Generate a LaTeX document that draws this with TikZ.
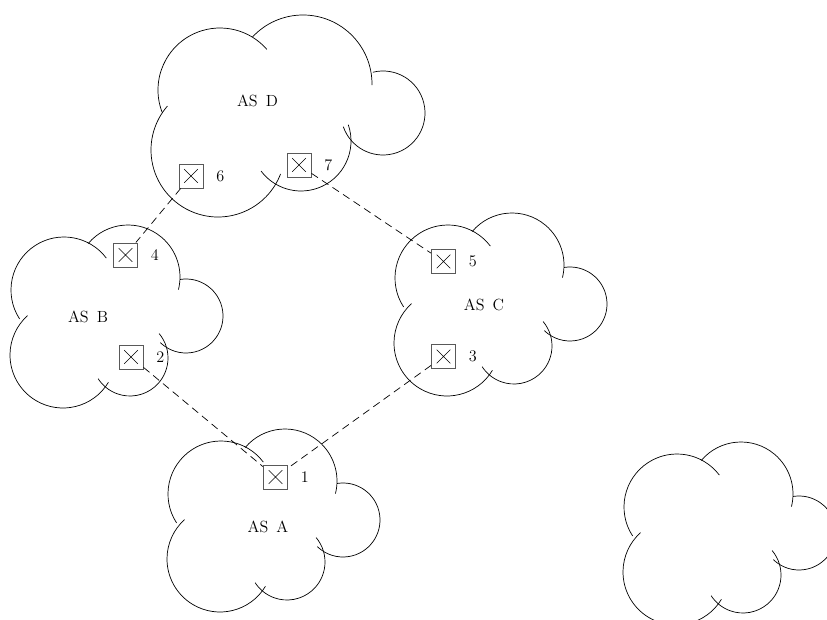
\documentclass[tikz,border=0pt]{standalone}
\usepackage{tikz}
\usetikzlibrary{positioning}
% one arc of a cloud: centre x, centre y, radius, start angle, end angle
\newcommand{\puff}[5]{\draw[cloud arc] (#1,#2) ++(#4:#3) arc[start angle=#4, end angle=#5, radius=#3];}
\tikzset{
  cloud arc/.style={
    line width=0.5pt
  },
  router/.style={
    draw=black!65,
    line width=0.7pt,
    rectangle,
    minimum size=0.6cm,
    inner sep=0pt,
    path picture={
      \draw[black, line width=0.4pt]
        ([shift={(-0.17cm,-0.17cm)}]path picture bounding box.center) --
        ([shift={(0.17cm,0.17cm)}]path picture bounding box.center)
        ([shift={(-0.17cm,0.17cm)}]path picture bounding box.center) --
        ([shift={(0.17cm,-0.17cm)}]path picture bounding box.center);
    }
  },
  port/.style={
    inner sep=0pt
  },
  link/.style={
    line width=0.5pt,
    dash pattern=on 5.5pt off 3.5pt
  },
  pics/cloud/.style={
    code={
      \puff{0}{0}{53}{213}{37}
      \puff{64}{13}{52}{140}{-14}
      \puff{122}{-26}{37}{99}{-134}
      \puff{66}{-68}{38}{40}{-147}
      \puff{-1}{-65}{53}{-31}{-228}
    }
  }
}

\begin{document}
\begin{tikzpicture}[x=0.025cm, y=0.025cm, font=\fontsize{11.5}{14}\selectfont]
  \useasboundingbox (0,0) rectangle (827,619);

  %% AS D
  \puff{220}{529}{62}{201}{41}
  \puff{303}{535}{69}{137}{-1}
  \puff{383}{506}{42}{104}{-161}
  \puff{301}{478}{50}{19}{-143}
  \puff{218}{469}{67}{-21}{-221}

  %% the other clouds
  \pic at (221,125) {cloud};
  \pic at (64,329) {cloud};
  \pic at (448,341) {cloud};
  \pic at (677,112) {cloud};

  \node (asd) at (257.5,518) {AS\enspace D};
  \node (asb) at (88,302) {AS\enspace B};
  \node (asc) at (484,314) {AS\enspace C};
  \node (asa) at (268,92) {AS\enspace A};

  %% routers
  \node[router] (r1) at (275.5,142) {};
  \node[router] (r2) at (131,262) {};
  \node[router] (r3) at (443.5,262.5) {};
  \node[router] (r4) at (125.5,364) {};
  \node[router] (r5) at (443.5,357.5) {};
  \node[router] (r6) at (191,443) {};
  \node[router] (r7) at (299,454) {};

  \node[port, right=9pt of r1] (p1) {1};
  \node[port, right=9pt of r2] (p2) {2};
  \node[port, right=9pt of r3] (p3) {3};
  \node[port, right=9pt of r4] (p4) {4};
  \node[port, right=9pt of r5] (p5) {5};
  \node[port, right=9pt of r6] (p6) {6};
  \node[port, right=9pt of r7] (p7) {7};

  \draw[link] (r6) -- (r4);
  \draw[link] (r7) -- (r5);
  \draw[link] (r2) -- (r1);
  \draw[link] (r3) -- (r1);
\end{tikzpicture}
\end{document}
